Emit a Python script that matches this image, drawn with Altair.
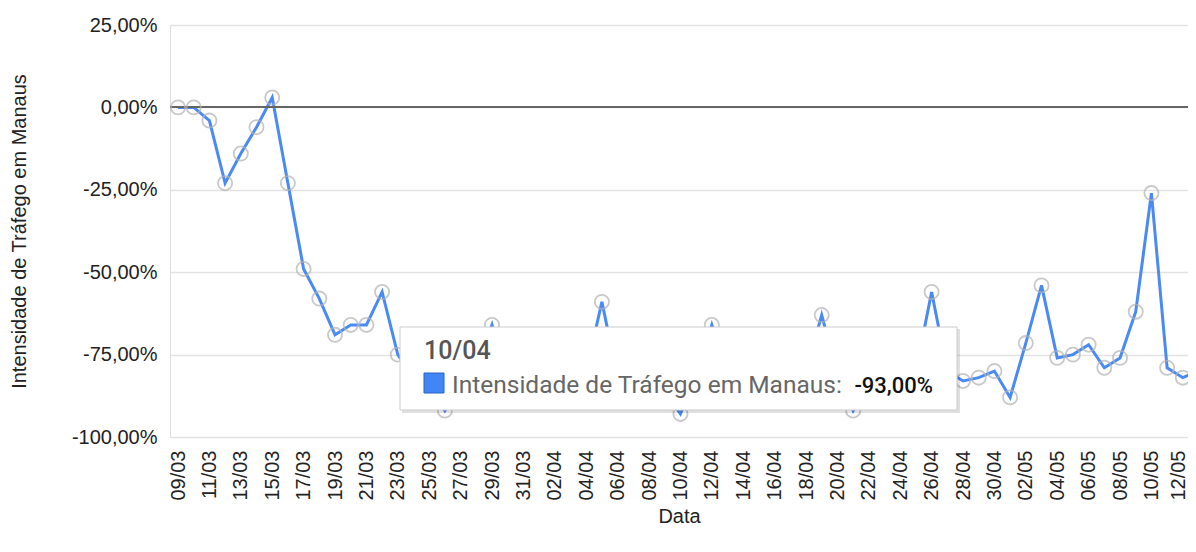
import altair as alt
import pandas as pd

# ---- data -------------------------------------------------------------
start_date = "2020-03-09"
values = [0, 0, -4, -23, -14, -6, 3, -23, -49, -58, -69, -66, -66, -56, -75,
          -82, -84, -92, -85, -80, -66, -83, -84, -83, -85, -84, -80, -59,
          -82, -83, -84, -86, -93, -82, -66, -81, -82, -83, -83, -84, -80,
          -63, -81, -92, -84, -83, -84, -80, -56, -80, -83, -82, -80, -88,
          -71.5, -54, -76, -75, -72, -79, -76, -62, -26, -79, -82, -80]
dates = pd.date_range(start_date, periods=len(values), freq="D")
series_name = "Intensidade de Tráfego em Manaus"
y_ticks = [-100, -75, -50, -25, 0, 25]
tick_dates = dates[:65:2]
hover_index = 32  # 10/04

df = pd.DataFrame({"Data": dates.strftime("%Y-%m-%d"), "v": values})

def dt(d, hours=0, minutes=0):
    return alt.DateTime(year=d.year, month=d.month, date=d.day,
                        hours=hours, minutes=minutes, utc=True)

x_enc = alt.X("Data:T",
              scale=alt.Scale(type="utc",
                              domain=[dt(pd.Timestamp("2020-03-08"), 11, 46),
                                      dt(pd.Timestamp("2020-05-12"), 7, 55)]),
              axis=alt.Axis(title="Data", values=[dt(d) for d in tick_dates],
                            labelExpr="utcFormat(datum.value, '%d/%m')",
                            labelAngle=-90, labelOverlap=False,
                            labelOffset={"condition": {"test": "datum.index >= 0.99", "value": -4},
                                         "value": 0},
                            grid=False, domain=False, ticks=False,
                            labelPadding=13, titlePadding=6,
                            labelFontSize=20, titleFontSize=20,
                            labelFont="Liberation Sans", titleFont="Liberation Sans",
                            labelColor="#222", titleColor="#222",
                            titleFontWeight="normal"))
y_enc = alt.Y("v:Q",
              scale=alt.Scale(domain=[-100, 25], nice=False, zero=False),
              axis=alt.Axis(title=series_name, values=y_ticks,
                            labelExpr="(datum.value < 0 ? '-' : '') + replace(format(abs(datum.value), '.2f'), '.', ',') + '%'",
                            grid=True, gridColor="#e2e2e2", gridWidth=1.6,
                            domain=False, ticks=False, labelPadding=13,
                            titlePadding=42,
                            labelFontSize=20, titleFontSize=20,
                            labelFont="Liberation Sans", titleFont="Liberation Sans",
                            labelColor="#222", titleColor="#222",
                            titleFontWeight="normal"))

base = alt.Chart(df)
line = base.mark_line(color="#4a8af4", strokeWidth=3, clip=True).encode(x=x_enc, y=y_enc)
pts = base.mark_point(filled=False, color="#b3b3b3", size=200, strokeWidth=1.8,
                      clip=True).encode(x=x_enc, y=y_enc)
zero = base.mark_rule(color="#666", strokeWidth=1.3).encode(y=alt.datum(0))

# ---- hover tooltip (static annotation) --------------------------------
hv = values[hover_index]
tip = pd.DataFrame({
    "date": [dates[hover_index].strftime("%d/%m")],
    "label": [series_name + ":"],
    "val": [("-" if hv < 0 else "") + f"{abs(hv):.2f}".replace(".", ",") + "%"],
})
tbase = alt.Chart(tip)
shadow = tbase.mark_rect(fill="#000", opacity=0.12).encode(
    x=alt.value(232), x2=alt.value(790), y=alt.value(304), y2=alt.value(388))
box = tbase.mark_rect(fill="white", stroke="#cccccc", strokeWidth=1).encode(
    x=alt.value(230), x2=alt.value(787), y=alt.value(302), y2=alt.value(385))
t_date = tbase.mark_text(align="left", baseline="alphabetic", font="Roboto",
                         fontSize=25, fontWeight=500, color="#555").encode(
    x=alt.value(254), y=alt.value(334), text="date:N")
sq = tbase.mark_rect(fill="#4285f4", stroke="#2a63c4", strokeWidth=1).encode(
    x=alt.value(254), x2=alt.value(274), y=alt.value(348), y2=alt.value(368))
t_lab = tbase.mark_text(align="left", baseline="alphabetic", font="Roboto",
                        fontSize=24.5, color="#666").encode(
    x=alt.value(282), y=alt.value(368), text="label:N")
t_val = tbase.mark_text(align="right", baseline="alphabetic", font="Roboto",
                        fontSize=22, fontWeight=500, color="#111").encode(
    x=alt.value(763), y=alt.value(368), text="val:N")

chart = alt.layer(line, zero, pts, shadow, box, t_date, sq, t_lab, t_val).properties(
    width=1018, height=412,
    autosize=alt.AutoSizeParams(type="none"),
    padding={"left": 162, "top": 17, "right": 0, "bottom": 107},
).configure_view(stroke=None).configure(background="white")

chart.save("out.html", embed_options={"renderer": "svg", "actions": False})
